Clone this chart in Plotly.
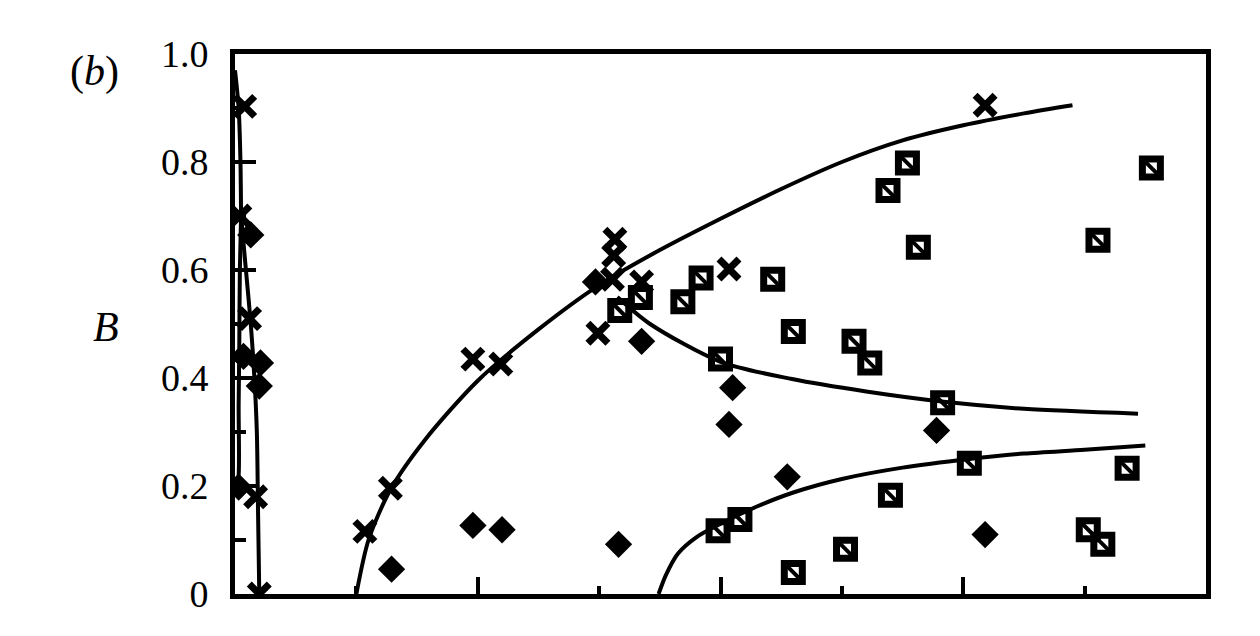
import plotly.graph_objects as go

# ---- data ----
cross_x = [0.08, 0.04, 0.12, 0.17, 0.20, 1.07, 1.28, 1.96, 2.19, 2.99, 3.11, 3.12, 3.13, 3.35, 4.07, 6.18]
cross_y = [0.903, 0.700, 0.510, 0.180, 0.000, 0.116, 0.196, 0.435, 0.426, 0.483, 0.583, 0.627, 0.657, 0.578, 0.602, 0.905]

diam_x = [0.13, 0.07, 0.21, 0.20, 0.03, 1.29, 1.96, 2.20, 2.97, 3.16, 3.35, 4.10, 4.07, 4.55, 5.78, 6.18]
diam_y = [0.665, 0.440, 0.428, 0.385, 0.198, 0.046, 0.127, 0.119, 0.578, 0.092, 0.468, 0.382, 0.314, 0.217, 0.303, 0.110]

sq_x = [3.17, 3.34, 3.69, 3.84, 4.00, 4.43, 4.60, 5.10, 5.23, 5.38, 5.54, 5.63, 5.83, 6.05,
        7.11, 7.55, 7.35, 7.03, 7.15, 5.40, 5.03, 4.60, 3.98, 4.16]
sq_y = [0.525, 0.549, 0.541, 0.585, 0.435, 0.583, 0.486, 0.468, 0.428, 0.747, 0.798, 0.642, 0.354, 0.242,
        0.655, 0.789, 0.233, 0.119, 0.092, 0.183, 0.083, 0.040, 0.117, 0.138]

# fitted curves
c_top_x = [0.00, 0.03, 0.045, 0.05]
c_top_y = [0.97, 0.90, 0.80, 0.70]
c_b1_x = [0.05, 0.09, 0.13, 0.16, 0.18, 0.19, 0.20]
c_b1_y = [0.70, 0.60, 0.50, 0.40, 0.30, 0.15, 0.00]
c_b2_x = [0.05, 0.04, 0.035, 0.03, 0.03, 0.01]
c_b2_y = [0.70, 0.60, 0.45, 0.35, 0.22, 0.19]

c1_x = [1.00, 1.10, 1.28, 1.56, 2.00, 2.50, 3.00, 3.50, 4.00, 4.50, 5.00, 5.50, 6.00, 6.50, 6.90]
c1_y = [0.00, 0.10, 0.193, 0.284, 0.395, 0.490, 0.572, 0.637, 0.695, 0.750, 0.800, 0.840, 0.868, 0.890, 0.905]

c2_x = [3.15, 3.42, 4.00, 4.59, 5.20, 5.84, 6.50, 7.44]
c2_y = [0.550, 0.500, 0.430, 0.398, 0.375, 0.356, 0.343, 0.334]

c3_x = [3.49, 3.55, 3.65, 3.80, 4.00, 4.30, 4.60, 5.00, 5.50, 6.05, 6.50, 7.00, 7.50]
c3_y = [0.000, 0.035, 0.075, 0.105, 0.130, 0.162, 0.188, 0.213, 0.234, 0.250, 0.260, 0.267, 0.275]

y_tickvals = [0, 0.2, 0.4, 0.6, 0.8, 1.0]
y_ticktext = ["0", "0.2", "0.4", "0.6", "0.8", "1.0"]

fig = go.Figure()

line_style = dict(color="black", width=4, shape="spline", smoothing=0.8)
for cx, cy in [(c_top_x, c_top_y), (c_b1_x, c_b1_y), (c_b2_x, c_b2_y),
               (c1_x, c1_y), (c2_x, c2_y), (c3_x, c3_y)]:
    fig.add_trace(go.Scatter(x=cx, y=cy, mode="lines", line=line_style,
                             showlegend=False, hoverinfo="skip"))

fig.add_trace(go.Scatter(x=sq_x, y=sq_y, mode="markers", showlegend=False,
                         marker=dict(symbol="square-open", size=18, color="black",
                                     line=dict(color="black", width=7))))
fig.add_trace(go.Scatter(x=sq_x, y=sq_y, mode="markers", showlegend=False,
                         marker=dict(symbol="line-nw", size=18, color="black",
                                     line=dict(color="black", width=4))))
fig.add_trace(go.Scatter(x=diam_x, y=diam_y, mode="markers", showlegend=False,
                         marker=dict(symbol="diamond", size=21, color="black",
                                     line=dict(width=0))))
fig.add_trace(go.Scatter(x=cross_x, y=cross_y, mode="markers", showlegend=False,
                         marker=dict(symbol="x-thin", size=20, color="black",
                                     line=dict(color="black", width=7))))

serif = "Liberation Serif, Times New Roman, serif"

fig.update_layout(
    width=1260, height=636,
    margin=dict(l=227, r=62, t=46, b=50),
    paper_bgcolor="white", plot_bgcolor="white",
    font=dict(family=serif, size=38, color="black"),
    xaxis=dict(range=[0, 8], showgrid=False, zeroline=False,
               showline=True, linecolor="black", linewidth=5, mirror=True,
               ticks="inside", tickvals=[0, 2, 4, 6, 8], ticklen=17, tickwidth=4,
               tickcolor="black", showticklabels=False,
               minor=dict(tickvals=[1, 3, 5, 7], ticks="inside", ticklen=8,
                          tickwidth=4, tickcolor="black")),
    yaxis=dict(range=[0, 1.0], showgrid=False, zeroline=False,
               showline=True, linecolor="black", linewidth=5, mirror=True,
               ticks="inside", tickvals=y_tickvals, ticktext=y_ticktext,
               ticklen=21, tickwidth=4, tickcolor="black",
               ticklabelstandoff=14,
               tickfont=dict(family=serif, size=38, color="black"),
               minor=dict(tickvals=[0.1, 0.3, 0.5, 0.7, 0.9], ticks="inside",
                          ticklen=11, tickwidth=4, tickcolor="black")),
    annotations=[
        dict(text="<i>B</i>", x=-0.133, y=0.495, xref="paper", yref="paper",
             xanchor="center", yanchor="middle",
             showarrow=False, font=dict(family=serif, size=42, color="black")),
        dict(text="(<i>b</i>)", x=-0.145, y=0.967, xref="paper", yref="paper",
             xanchor="center", yanchor="middle",
             showarrow=False, font=dict(family=serif, size=42, color="black")),
    ],
)

fig.write_html("out.html")
